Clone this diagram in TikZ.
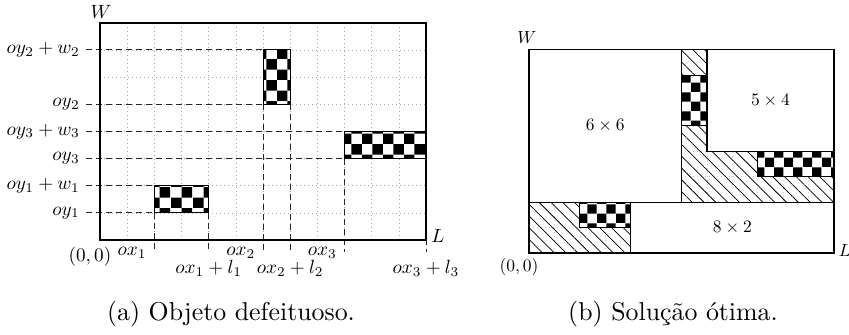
\documentclass[tikz,border=0pt]{standalone}
\usetikzlibrary{patterns,patterns.meta}
\tikzdeclarepattern{
  name=checkA,
  type=uncolored,
  bottom left={(0pt,0pt)},
  top right={(12.8pt,12.8pt)},
  tile size={(12.8pt,12.8pt)},
  code={
    \fill (0pt,0pt) rectangle (6.4pt,6.4pt);
    \fill (6.4pt,6.4pt) rectangle (12.8pt,12.8pt);
  }
}
\tikzdeclarepattern{
  name=checkB,
  type=uncolored,
  bottom left={(0pt,0pt)},
  top right={(11.2pt,11.2pt)},
  tile size={(11.2pt,11.2pt)},
  code={
    \fill (0pt,0pt) rectangle (5.6pt,5.6pt);
    \fill (5.6pt,5.6pt) rectangle (11.2pt,11.2pt);
  }
}
\begin{document}
\begin{tikzpicture}[x=0.6pt,y=-0.6pt,
  lbl/.style={scale=1.15, inner sep=1.5pt},
  ylbl/.style={scale=1.15, inner ysep=1.5pt, inner xsep=3pt, anchor=east},
  rlbl/.style={scale=1.05, inner sep=1.5pt},
  captxt/.style={scale=1.55, inner sep=0pt},
  gridln/.style={gray!70, dotted, line width=0.4pt},
  rgridln/.style={gray!45, dotted, line width=0.4pt},
  dashln/.style={black!85, dash pattern=on 3.6pt off 2.4pt, line width=0.5pt},
  frameln/.style={line width=1.1pt},
  boxln/.style={line width=0.7pt},
  pieceA/.style={preaction={fill=white}, pattern=checkA, pattern color=black, draw=black, line width=0.6pt},
  pieceB/.style={preaction={fill=white}, pattern=checkB, pattern color=black, draw=black, line width=0.6pt},
  hatch/.style={pattern={Lines[angle=-45,distance=5pt,line width=0.45pt]}},
]
\useasboundingbox (0,0) rectangle (849,335);

% ---------------- left diagram ----------------
\begin{scope}[shift={(100,240)}, x=16.3pt, y=16.3pt]
  \foreach \i in {1,...,11} \draw[gridln] (\i,0) -- (\i,8);
  \foreach \j in {1,...,7} \draw[gridln] (0,\j) -- (12,\j);

  \coordinate (a1) at (2,1); \coordinate (b1) at (4,2);
  \coordinate (a2) at (6,5); \coordinate (b2) at (7,7);
  \coordinate (a3) at (9,3); \coordinate (b3) at (12,4);

  % y labels
  \node[ylbl] (oy1)  at (-0.52,1) {$oy_1$};
  \node[ylbl] (oy1w) at (-0.52,2) {$oy_1+w_1$};
  \node[ylbl] (oy3)  at (-0.52,3) {$oy_3$};
  \node[ylbl] (oy3w) at (-0.52,4) {$oy_3+w_3$};
  \node[ylbl] (oy2)  at (-0.52,5) {$oy_2$};
  \node[ylbl] (oy2w) at (-0.52,7) {$oy_2+w_2$};
  \draw[dashln] (oy1.east) -- (a1);
  \draw[dashln] (oy1w.east) -- (2,2);
  \draw[dashln] (oy3.east) -- (a3);
  \draw[dashln] (oy3w.east) -- (9,4);
  \draw[dashln] (oy2.east) -- (a2);
  \draw[dashln] (oy2w.east) -- (6,7);

  % x labels
  \coordinate (e1) at (2,-0.45);  \coordinate (e2) at (4,-0.45);
  \coordinate (e3) at (6,-0.45);  \coordinate (e4) at (7,-0.45);
  \coordinate (e5) at (9,-0.45);  \coordinate (e6) at (12,-0.45);
  \draw[dashln] (a1) -- (e1);
  \draw[dashln] (4,1) -- (e2);
  \draw[dashln] (a2) -- (e3);
  \draw[dashln] (7,5) -- (e4);
  \draw[dashln] (a3) -- (e5);
  \draw[dashln] (12,3) -- (e6);
  \node[lbl,anchor=east] (ox1) at (1.83,-0.48) {$ox_1$};
  \node[lbl,anchor=east] (ox2) at (5.83,-0.48) {$ox_2$};
  \node[lbl,anchor=east] (ox3) at (8.83,-0.48) {$ox_3$};
  \node[lbl] (ox1l) at (4,-1.03) {$ox_1+l_1$};
  \node[lbl] (ox2l) at (7,-1.03) {$ox_2+l_2$};
  \node[lbl] (ox3l) at (12,-1.03) {$ox_3+l_3$};

  \draw[pieceA] (a1) rectangle (b1);
  \draw[pieceA] (a2) rectangle (b2);
  \draw[pieceA] (a3) rectangle (b3);

  \draw[frameln] (0,0) rectangle (12,8);
  \node[lbl] (W1) at (0.04,8.39) {$W$};
  \node[lbl] (L1) at (12.44,0.15) {$L$};
  \node[lbl] (O1) at (-0.37,-0.63) {$(0,0)$};
\end{scope}

% ---------------- right diagram ----------------
\begin{scope}[shift={(529,253)}, x=15.25pt, y=15.25pt]
  \foreach \i in {1,...,11} \draw[rgridln] (\i,0) -- (\i,8);
  \foreach \j in {1,...,7} \draw[rgridln] (0,\j) -- (12,\j);
  \fill[hatch] (0,0) rectangle (4,2);
  \fill[hatch] (6,2) -- (12,2) -- (12,4) -- (7,4) -- (7,8) -- (6,8) -- cycle;
  \draw[boxln, fill=white] (0,2) rectangle (6,8);
  \draw[boxln, fill=white] (7,4) rectangle (12,8);
  \draw[boxln, fill=white] (4,0) rectangle (12,2);
  \node[rlbl] (b66) at (3,5) {$6\times 6$};
  \node[rlbl] (b54) at (9.5,6) {$5\times 4$};
  \node[rlbl] (b82) at (8,1) {$8\times 2$};
  \draw[pieceB] (2,1) rectangle (4,2);
  \draw[pieceB] (6,5) rectangle (7,7);
  \draw[pieceB] (9,3) rectangle (12,4);
  \draw[boxln] (0,0) rectangle (12,8);
  \node[rlbl] (W2) at (-0.08,8.46) {$W$};
  \node[rlbl] (L2) at (12.43,0.08) {$L$};
  \node[rlbl] (O2) at (-0.39,-0.55) {$(0,0)$};
\end{scope}

% captions
\node[captxt] (capa) at (231,314) {(a) Objeto defeituoso.};
\node[captxt] (capb) at (673,314) {(b) Solução ótima.};
\end{tikzpicture}
\end{document}
